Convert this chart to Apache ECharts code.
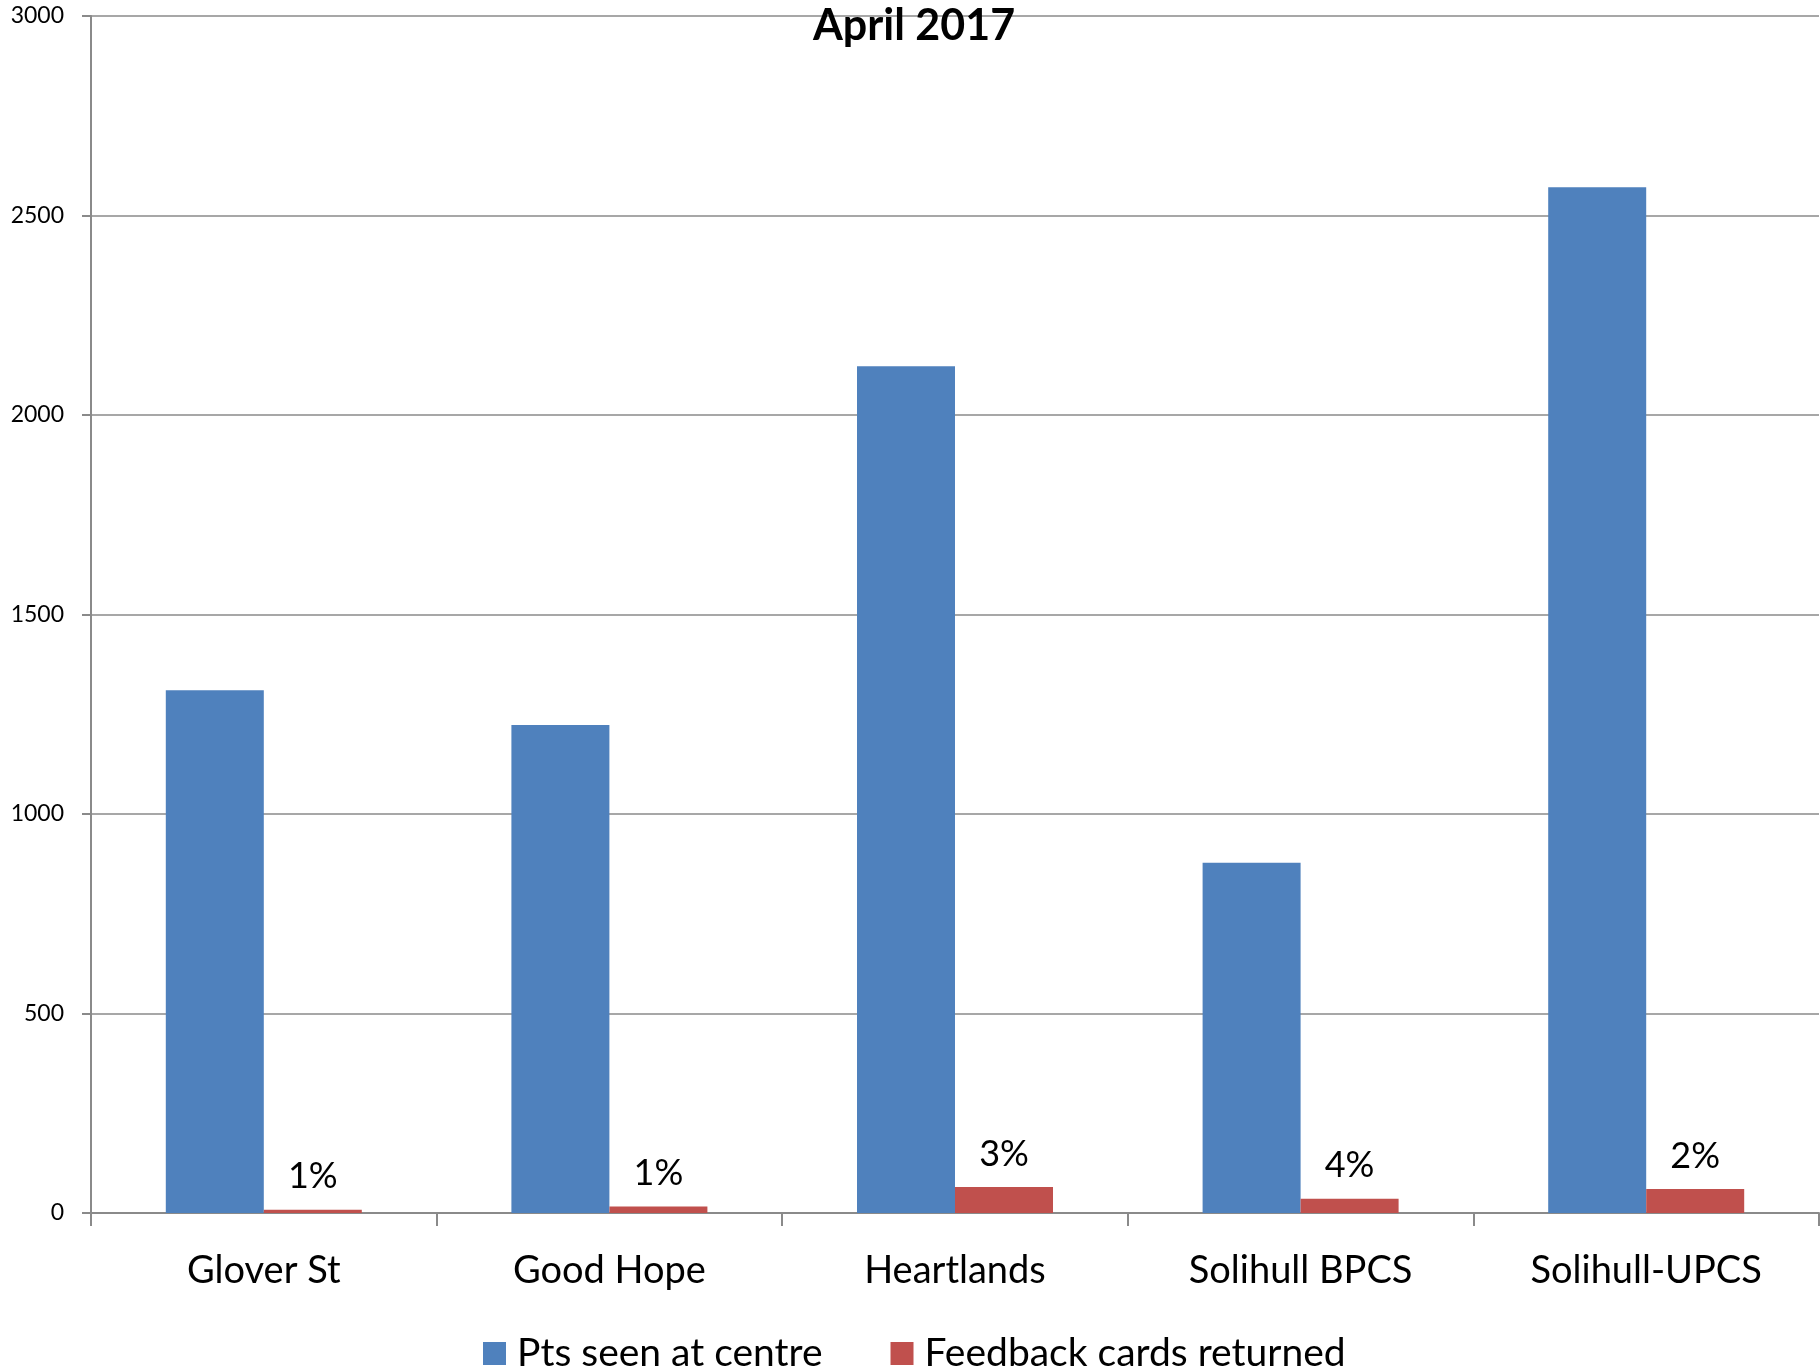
<!DOCTYPE html>
<html>
<head>
<meta charset="utf-8">
<script src="https://cdn.jsdelivr.net/npm/echarts@6/dist/echarts.min.js"></script>
<style>
html,body{margin:0;padding:0;background:#fff;}
#chart{width:1820px;height:1371px;}
</style>
</head>
<body>
<div id="chart"></div>
<script>
var titleText = 'April 2017';
var categories = ['Glover St', 'Good Hope', 'Heartlands', 'Solihull BPCS', 'Solihull-UPCS'];
var seriesNames = ['Pts seen at centre', 'Feedback cards returned'];
var ptsSeen = [1310, 1223, 2122, 878, 2571];
var feedbackCards = [8, 16, 65, 36, 60];
var pctLabels = ['1%', '1%', '3%', '4%', '2%'];
var yTicks = {min: 0, max: 3000, interval: 500};

var FONT = 'Lato, "Noto Sans", sans-serif';
var GRAY = '#8a8a8a';

var chart = echarts.init(document.getElementById('chart'));
chart.setOption({
  animation: false,
  backgroundColor: '#ffffff',
  title: {
    text: titleText,
    left: 808,
    top: 0,
    textStyle: {fontFamily: FONT, fontWeight: 'bold', fontSize: 43, color: '#000'}
  },
  legend: {
    data: seriesNames,
    left: 478,
    top: 1329,
    icon: 'rect',
    itemWidth: 23,
    itemHeight: 23,
    itemGap: 68,
    textStyle: {fontFamily: FONT, fontSize: 39, color: '#000', padding: [0, 0, 0, 6]}
  },
  grid: {left: 91, right: 1, top: 16, bottom: 158, containLabel: false},
  xAxis: {
    type: 'category',
    data: categories,
    axisLine: {show: true, lineStyle: {color: GRAY, width: 2}},
    axisTick: {show: true, length: 13, lineStyle: {color: GRAY, width: 2}},
    axisLabel: {fontFamily: FONT, fontSize: 38, color: '#000', margin: 39}
  },
  yAxis: {
    type: 'value',
    min: yTicks.min,
    max: yTicks.max,
    interval: yTicks.interval,
    axisLine: {show: true, lineStyle: {color: GRAY, width: 2}},
    axisTick: {show: true, length: 9, inside: false, lineStyle: {color: GRAY, width: 2}},
    axisLabel: {
      fontFamily: FONT, fontSize: 23, color: '#000', margin: 27,
      formatter: function (v) { return String(v); }
    },
    splitLine: {show: true, lineStyle: {color: GRAY, width: 1.5}}
  },
  series: [
    {
      name: seriesNames[0],
      type: 'bar',
      data: ptsSeen,
      barWidth: 98,
      barGap: '0%',
      itemStyle: {color: '#4F81BD'}
    },
    {
      name: seriesNames[1],
      type: 'bar',
      data: feedbackCards,
      barWidth: 98,
      barGap: '0%',
      itemStyle: {color: '#C0504D'},
      label: {
        show: true,
        position: 'top',
        distance: 15,
        fontFamily: FONT,
        fontSize: 36,
        color: '#000',
        formatter: function (p) { return pctLabels[p.dataIndex]; }
      }
    }
  ]
});
</script>
</body>
</html>
